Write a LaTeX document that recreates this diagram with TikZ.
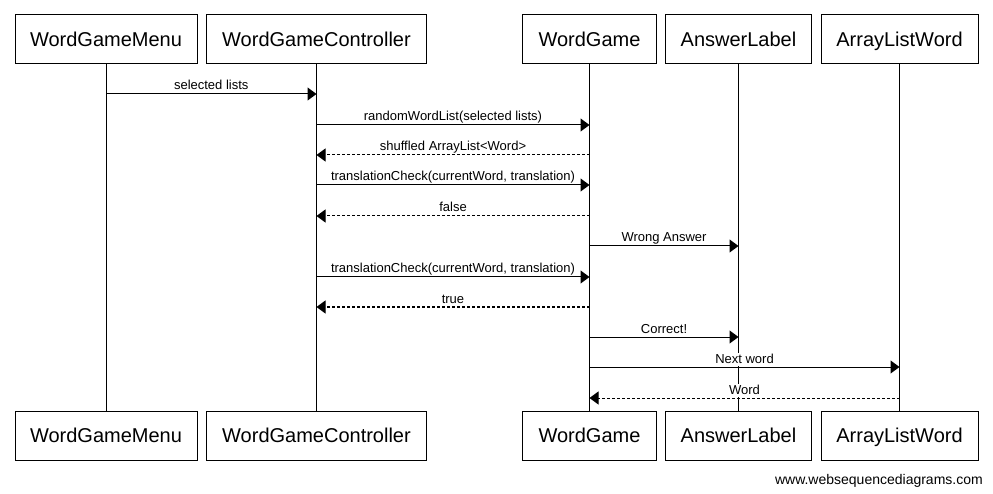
\documentclass[tikz,border=0pt]{standalone}
\usepackage{fontspec}
\setmainfont{Liberation Sans}
\usetikzlibrary{arrows.meta}
\tikzset{
  actor/.style={draw, line width=1pt, minimum height=49pt, inner sep=0pt,
    text height=15pt, text depth=1pt, font=\fontsize{20}{24}\selectfont},
  lifeline/.style={line width=1pt},
  msg/.style={line width=1pt, -{Triangle[length=9pt,width=13pt]}},
  ret/.style={msg, dash pattern=on 3pt off 2pt},
  lbl/.style={fill=white, inner sep=0.5pt, text height=10pt, text depth=2pt,
    font=\fontsize{13}{15}\selectfont, anchor=base, yshift=4pt},
  footer/.style={font=\fontsize{14}{16}\selectfont, anchor=base east, inner sep=0pt}
}
\begin{document}
\begin{tikzpicture}[x=1pt,y=-1pt]
\useasboundingbox (0,0) rectangle (993,494);
% top actors
\node[actor, minimum width=182pt] (menuT) at (106,39.5) {WordGameMenu};
\node[actor, minimum width=220pt] (ctrlT) at (316.5,39.5) {WordGameController};
\node[actor, minimum width=134pt] (gameT) at (589.5,39.5) {WordGame};
\node[actor, minimum width=146pt] (ansT) at (738.5,39.5) {AnswerLabel};
\node[actor, minimum width=157pt] (arrT) at (899.5,39.5) {ArrayListWord};
% bottom actors
\node[actor, minimum width=182pt] (menuB) at (106,435.5) {WordGameMenu};
\node[actor, minimum width=220pt] (ctrlB) at (316.5,435.5) {WordGameController};
\node[actor, minimum width=134pt] (gameB) at (589.5,435.5) {WordGame};
\node[actor, minimum width=146pt] (ansB) at (738.5,435.5) {AnswerLabel};
\node[actor, minimum width=157pt] (arrB) at (899.5,435.5) {ArrayListWord};
% lifelines
\draw[lifeline] (menuT.south) -- (menuB.north);
\draw[lifeline] (ctrlT.south) -- (ctrlB.north);
\draw[lifeline] (gameT.south) -- (gameB.north);
\draw[lifeline] (ansT.south) -- (ansB.north);
\draw[lifeline] (arrT.south) -- (arrB.north);
% message end points
\coordinate (m1a) at (menuT.south |- 0,94);  \coordinate (m1b) at (ctrlT.south |- 0,94);
\coordinate (m2a) at (ctrlT.south |- 0,125); \coordinate (m2b) at (gameT.south |- 0,125);
\coordinate (m3a) at (gameT.south |- 0,155); \coordinate (m3b) at (ctrlT.south |- 0,155);
\coordinate (m4a) at (ctrlT.south |- 0,185); \coordinate (m4b) at (gameT.south |- 0,185);
\coordinate (m5a) at (gameT.south |- 0,216); \coordinate (m5b) at (ctrlT.south |- 0,216);
\coordinate (m6a) at (gameT.south |- 0,246); \coordinate (m6b) at (ansT.south |- 0,246);
\coordinate (m7a) at (ctrlT.south |- 0,277); \coordinate (m7b) at (gameT.south |- 0,277);
\coordinate (m8a) at (gameT.south |- 0,307); \coordinate (m8b) at (ctrlT.south |- 0,307);
\coordinate (m9a) at (gameT.south |- 0,337); \coordinate (m9b) at (ansT.south |- 0,337);
\coordinate (m10a) at (gameT.south |- 0,367); \coordinate (m10b) at (arrT.south |- 0,367);
\coordinate (m11a) at (arrT.south |- 0,398); \coordinate (m11b) at (gameT.south |- 0,398);
% labels (white background hides lifelines behind text)
\path (m1a) -- node[lbl] (l1) {selected lists} (m1b);
\path (m2a) -- node[lbl] (l2) {randomWordList(selected lists)} (m2b);
\path (m3a) -- node[lbl] (l3) {shuffled ArrayList<Word>} (m3b);
\path (m4a) -- node[lbl] (l4) {translationCheck(currentWord, translation)} (m4b);
\path (m5a) -- node[lbl] (l5) {false} (m5b);
\path (m6a) -- node[lbl] (l6) {Wrong Answer} (m6b);
\path (m7a) -- node[lbl] (l7) {translationCheck(currentWord, translation)} (m7b);
\path (m8a) -- node[lbl] (l8) {true} (m8b);
\path (m9a) -- node[lbl] (l9) {Correct!} (m9b);
\path (m10a) -- node[lbl] (l10) {Next word} (m10b);
\path (m11a) -- node[lbl] (l11) {Word} (m11b);
% messages
\draw[msg] (m1a) -- (m1b);
\draw[msg] (m2a) -- (m2b);
\draw[ret] (m3a) -- (m3b);
\draw[msg] (m4a) -- (m4b);
\draw[ret] (m5a) -- (m5b);
\draw[msg] (m6a) -- (m6b);
\draw[msg] (m7a) -- (m7b);
\draw[ret] (m8a) -- (m8b);
\draw[msg] (m9a) -- (m9b);
\draw[msg] (m10a) -- (m10b);
\draw[ret] (m11a) -- (m11b);
% footer
\node[footer] (foot) at (983,484) {www.websequencediagrams.com};
\end{tikzpicture}
\end{document}
